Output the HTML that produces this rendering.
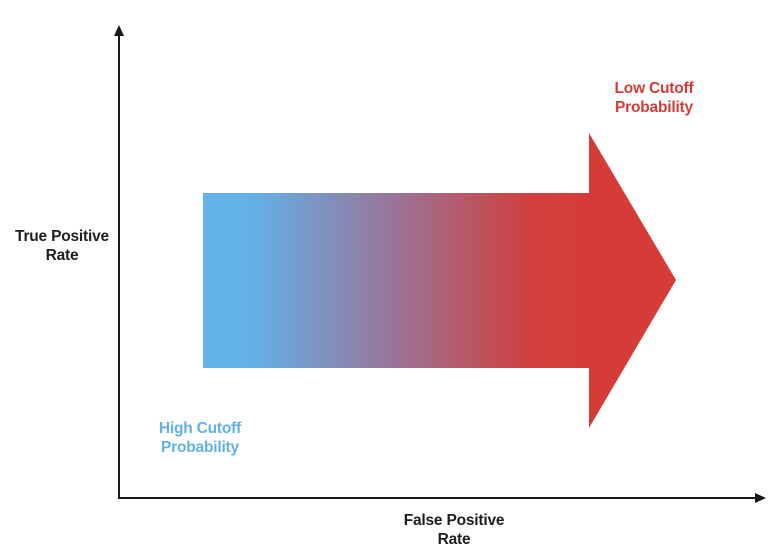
<!DOCTYPE html>
<html><head><meta charset="utf-8"><style>
html,body{margin:0;padding:0;background:#fff}
svg{display:block}
text{font-family:"Liberation Sans",sans-serif;font-weight:bold;font-size:15.5px;text-anchor:middle;letter-spacing:-0.2px}
</style></head><body>
<svg width="782" height="560" viewBox="0 0 782 560">
<defs>
<linearGradient id="g" gradientUnits="userSpaceOnUse" x1="203" y1="0" x2="589" y2="0">
<stop offset="0" stop-color="#62b1e9"/>
<stop offset="0.12" stop-color="#62b1e9"/>
<stop offset="0.5" stop-color="#9a7496"/>
<stop offset="0.85" stop-color="#d13f3c"/>
<stop offset="1" stop-color="#d63c37"/>
</linearGradient>
</defs>
<g>
<line x1="119" y1="36" x2="119" y2="499" stroke="#1a1a1a" stroke-width="2"/>
<polygon points="119,25 114,36 124,36" fill="#1a1a1a"/>
</g>
<g>
<line x1="118" y1="498" x2="755" y2="498" stroke="#1a1a1a" stroke-width="2"/>
<polygon points="766,498 755,493 755,503" fill="#1a1a1a"/>
</g>
<g>
<rect x="203" y="193" width="387" height="175" fill="url(#g)"/>
<polygon points="589,133 676,280 589,428" fill="#d63c37"/>
</g>
<text x="62" y="241" fill="#1f1f1f">True Positive</text>
<text x="62" y="260" fill="#1f1f1f">Rate</text>
<text x="454" y="525" fill="#1f1f1f">False Positive</text>
<text x="454" y="544" fill="#1f1f1f">Rate</text>
<text x="200" y="433" fill="#62b1e9">High Cutoff</text>
<text x="200" y="452" fill="#62b1e9">Probability</text>
<text x="654" y="93" fill="#d63c37">Low Cutoff</text>
<text x="654" y="112" fill="#d63c37">Probability</text>
</svg>
</body></html>
